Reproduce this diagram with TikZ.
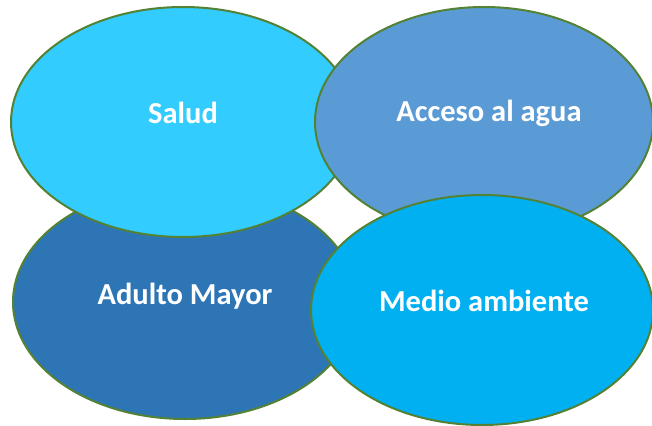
\documentclass[tikz,border=0pt]{standalone}
\usepackage{fontspec}
\setmainfont{Carlito}
\usetikzlibrary{shapes.geometric}

\definecolor{saludcol}{HTML}{33CCFF}
\definecolor{aguacol}{HTML}{5B9BD5}
\definecolor{mayorcol}{HTML}{2E75B6}
\definecolor{mediocol}{HTML}{00B0F0}
\definecolor{rimcol}{HTML}{548235}

\begin{document}
\begin{tikzpicture}[
    x=1pt, y=-1pt,
    blob/.style={ellipse, draw=rimcol, line width=2pt, inner sep=0pt,
        minimum width=344pt, minimum height=230pt},
    txt/.style={text=white, font=\bfseries\fontsize{30.5}{34}\selectfont}
]
    \useasboundingbox[fill=white] (0,0) rectangle (652,425);

    \node[blob, fill=mayorcol, minimum height=234pt,
        label={[txt, yshift=6pt]center:Adulto Mayor}] (mayor) at (185,302) {};
    \node[blob, fill=saludcol,
        label={[txt, yshift=9pt]center:Salud}] (salud) at (183,122) {};
    \node[blob, fill=aguacol, minimum width=338pt,
        label={[txt, xshift=5pt, yshift=9pt]center:Acceso al agua}] (agua) at (484,122) {};
    \node[blob, fill=mediocol, minimum width=342pt,
        label={[txt, xshift=2pt, yshift=9pt]center:Medio ambiente}] (medio) at (482,310) {};
\end{tikzpicture}
\end{document}
